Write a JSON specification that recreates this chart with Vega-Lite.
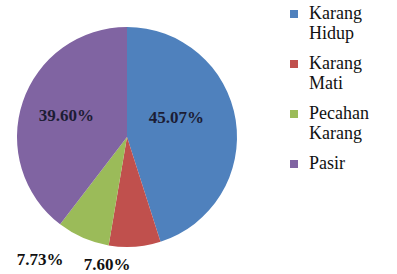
{
  "$schema": "https://vega.github.io/schema/vega-lite/v6.json",
  "width": 254,
  "height": 274,
  "autosize": "none",
  "padding": {"left": 0, "top": 0, "right": 143, "bottom": 0},
  "background": "white",
  "config": {"font": "Liberation Serif", "legend": {"labelFont": "Liberation Serif"}},
  "data": {"values": [
    {"cat": "Karang Hidup", "value": 0.4507},
    {"cat": "Karang Mati", "value": 0.0760},
    {"cat": "Pecahan Karang", "value": 0.0773},
    {"cat": "Pasir", "value": 0.3960}
  ]},
  "transform": [{"window": [{"op": "row_number", "as": "idx"}]}],
  "encoding": {
    "theta": {"field": "value", "type": "quantitative", "stack": true},
    "order": {"field": "idx", "type": "quantitative"}
  },
  "layer": [
    {
      "mark": {"type": "arc", "radius": 110},
      "encoding": {
        "color": {
          "field": "cat", "type": "nominal",
          "sort": ["Karang Hidup", "Karang Mati", "Pecahan Karang", "Pasir"],
          "scale": {"domain": ["Karang Hidup", "Karang Mati", "Pecahan Karang", "Pasir"], "range": ["#4F81BD", "#C0504D", "#9BBB59", "#8064A2"]},
          "legend": {
            "title": null, "orient": "none", "legendX": 285, "legendY": 5,
            "symbolType": "square", "symbolSize": 64, "symbolStrokeWidth": 0,
            "labelFont": "Liberation Serif", "labelFontSize": 18, "labelColor": "#111",
            "labelLineHeight": 18, "labelLimit": 200, "labelBaseline": "middle",
            "labelExpr": "split(datum.label, ' ')", "rowPadding": 12, "labelOffset": 6
          }
        }
      }
    },
    {
      "mark": {"type": "text", "radius": 50, "dy": -11, "font": "Liberation Serif", "fontSize": 17, "fontWeight": "bold", "color": "#1c1c34"},
      "encoding": {"text": {"condition": {"test": "datum.cat === 'Karang Hidup'", "field": "value", "type": "quantitative", "format": ".2%"}, "value": ""}}
    },
    {
      "mark": {"type": "text", "radius": 64, "font": "Liberation Serif", "fontSize": 17, "fontWeight": "bold", "color": "#1c1c34"},
      "encoding": {"text": {"condition": {"test": "datum.cat === 'Pasir'", "field": "value", "type": "quantitative", "format": ".2%"}, "value": ""}}
    },
    {
      "mark": {"type": "text", "radius": 128, "dx": -29, "font": "Liberation Serif", "fontSize": 17, "fontWeight": "bold", "color": "#111"},
      "encoding": {"text": {"condition": {"test": "datum.cat === 'Karang Mati'", "field": "value", "type": "quantitative", "format": ".2%"}, "value": ""}}
    },
    {
      "mark": {"type": "text", "radius": 150, "dx": -27, "dy": -15, "font": "Liberation Serif", "fontSize": 17, "fontWeight": "bold", "color": "#111"},
      "encoding": {"text": {"condition": {"test": "datum.cat === 'Pecahan Karang'", "field": "value", "type": "quantitative", "format": ".2%"}, "value": ""}}
    }
  ]
}
